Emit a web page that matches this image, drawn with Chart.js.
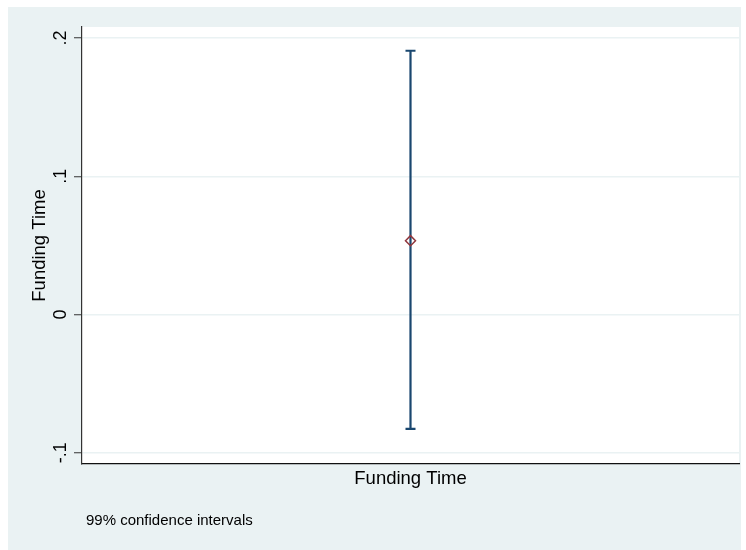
<!DOCTYPE html>
<html>
<head>
<meta charset="utf-8">
<script src="https://cdn.jsdelivr.net/npm/chart.js@4"></script>
<style>
  html, body { margin: 0; padding: 0; background: #ffffff; }
  #wrap { width: 746px; height: 550px; }
</style>
</head>
<body>
<div id="wrap"><canvas id="c" width="746" height="550"></canvas></div>
<script>
// Coefficient estimate with its 99% confidence interval
const categories = ['Funding Time'];
const estimates = [0.0534];
const ciLower = [-0.0828];
const ciUpper = [0.1908];
const yTickValues = [-0.1, 0, 0.1, 0.2];
const yTickLabels = ['-.1', '0', '.1', '.2'];
const yTitle = 'Funding Time';
const note = '99% confidence intervals';

const BG = '#EAF2F3';
const FONT = '"Liberation Sans", Arial, sans-serif';

const stataFrame = {
  id: 'stataFrame',
  beforeDraw(chart) {
    const { ctx, chartArea: a } = chart;
    ctx.save();
    ctx.fillStyle = '#ffffff';
    ctx.fillRect(0, 0, chart.width, chart.height);
    ctx.fillStyle = BG;
    ctx.fillRect(8, 7, 733, 543);
    ctx.fillStyle = '#ffffff';
    ctx.fillRect(a.left, a.top, a.right - a.left, a.bottom - a.top);
    ctx.restore();
  },
  beforeDatasetsDraw(chart) {
    // whiskers with end caps, positioned through the chart's scales
    const { ctx } = chart;
    const xs = chart.scales.x, ys = chart.scales.y;
    ctx.save();
    ctx.strokeStyle = '#1A476F';
    ctx.lineWidth = 2.2;
    categories.forEach((c, i) => {
      const px = xs.getPixelForValue(i);
      const top = ys.getPixelForValue(ciUpper[i]);
      const bot = ys.getPixelForValue(ciLower[i]);
      ctx.beginPath();
      ctx.moveTo(px, top); ctx.lineTo(px, bot);
      ctx.moveTo(px - 5, top); ctx.lineTo(px + 5, top);
      ctx.moveTo(px - 5, bot); ctx.lineTo(px + 5, bot);
      ctx.stroke();
    });
    ctx.restore();
  },
  afterDraw(chart) {
    const { ctx, chartArea: a } = chart;
    const ys = chart.scales.y, xs = chart.scales.x;
    ctx.save();
    ctx.fillStyle = '#000000';
    // rotated y tick labels
    ctx.font = '18px ' + FONT;
    ctx.textAlign = 'center';
    ctx.textBaseline = 'middle';
    yTickValues.forEach((v, i) => {
      const py = ys.getPixelForValue(v);
      ctx.save();
      ctx.translate(61, py);
      ctx.rotate(-Math.PI / 2);
      ctx.fillText(yTickLabels[i], 0, 0);
      ctx.restore();
    });
    // y axis title
    ctx.save();
    ctx.translate(40, (a.top + a.bottom) / 2);
    ctx.rotate(-Math.PI / 2);
    ctx.font = '18.5px ' + FONT;
    ctx.fillText(yTitle, 0, 0);
    ctx.restore();
    // category label under the axis
    ctx.font = '18.5px ' + FONT;
    categories.forEach((c, i) => {
      ctx.fillText(c, xs.getPixelForValue(i), 479);
    });
    // note
    ctx.textAlign = 'left';
    ctx.font = '15px ' + FONT;
    ctx.fillText(note, 86, 521);
    ctx.restore();
  }
};

new Chart(document.getElementById('c'), {
  type: 'scatter',
  data: {
    datasets: [{
      label: categories[0],
      data: estimates.map((v, i) => ({ x: i, y: v })),
      pointStyle: 'rectRot',
      pointRadius: 5,
      pointHoverRadius: 5,
      pointBorderWidth: 1.5,
      borderColor: '#90353B',
      backgroundColor: 'rgba(0,0,0,0)'
    }]
  },
  options: {
    responsive: false,
    animation: false,
    events: [],
    layout: { padding: { left: 74, top: 27, right: 7, bottom: 86 } },
    plugins: { legend: { display: false }, tooltip: { enabled: false } },
    scales: {
      x: {
        type: 'linear',
        min: -1, max: 1,
        grid: { display: false, drawTicks: false },
        ticks: { display: false },
        border: { display: true, color: '#111111', width: 1.3 }
      },
      y: {
        type: 'linear',
        min: -0.1082, max: 0.208,
        afterBuildTicks: (axis) => { axis.ticks = yTickValues.map(v => ({ value: v })); },
        grid: { color: BG, lineWidth: 1.5, tickColor: '#333333', tickLength: 8, tickWidth: 1 },
        ticks: { display: false },
        border: { display: true, color: '#333333', width: 1.2 }
      }
    }
  },
  plugins: [stataFrame]
});
</script>
</body>
</html>
